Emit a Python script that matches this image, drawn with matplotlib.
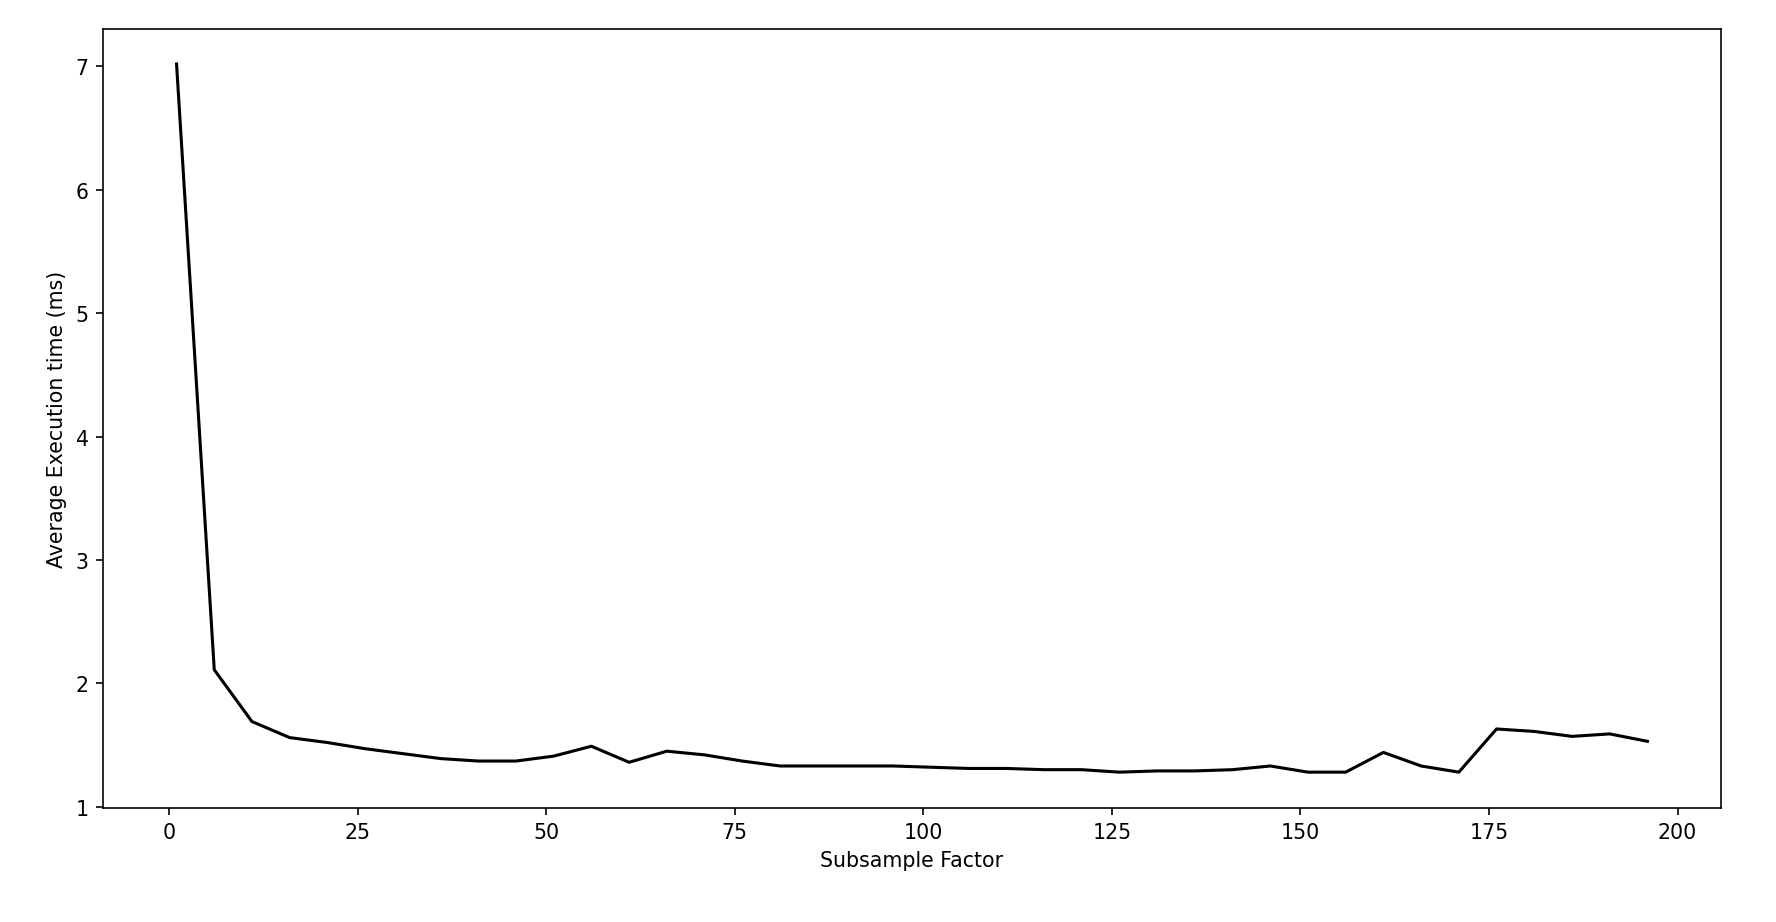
import matplotlib
matplotlib.use("Agg")
import matplotlib.pyplot as plt

factors = list(range(1, 200, 5))
times = [7.02, 2.11, 1.69, 1.56, 1.52, 1.47, 1.43, 1.39, 1.37, 1.37,
         1.41, 1.49, 1.36, 1.45, 1.42, 1.37, 1.33, 1.33, 1.33, 1.33,
         1.32, 1.31, 1.31, 1.30, 1.30, 1.28, 1.29, 1.29, 1.30, 1.33,
         1.28, 1.28, 1.44, 1.33, 1.28, 1.63, 1.61, 1.57, 1.59, 1.53]

fig = plt.figure(figsize=(12, 6.236), dpi=148)
ax = fig.add_axes([0.058, 0.124, 0.911, 0.844])
ax.plot(factors, times, color="black")
ax.set_xlabel("Subsample Factor")
ax.set_ylabel("Average Execution time (ms)")
ax.set_xticks([0, 25, 50, 75, 100, 125, 150, 175, 200])
fig.savefig("out.png", dpi=148)
